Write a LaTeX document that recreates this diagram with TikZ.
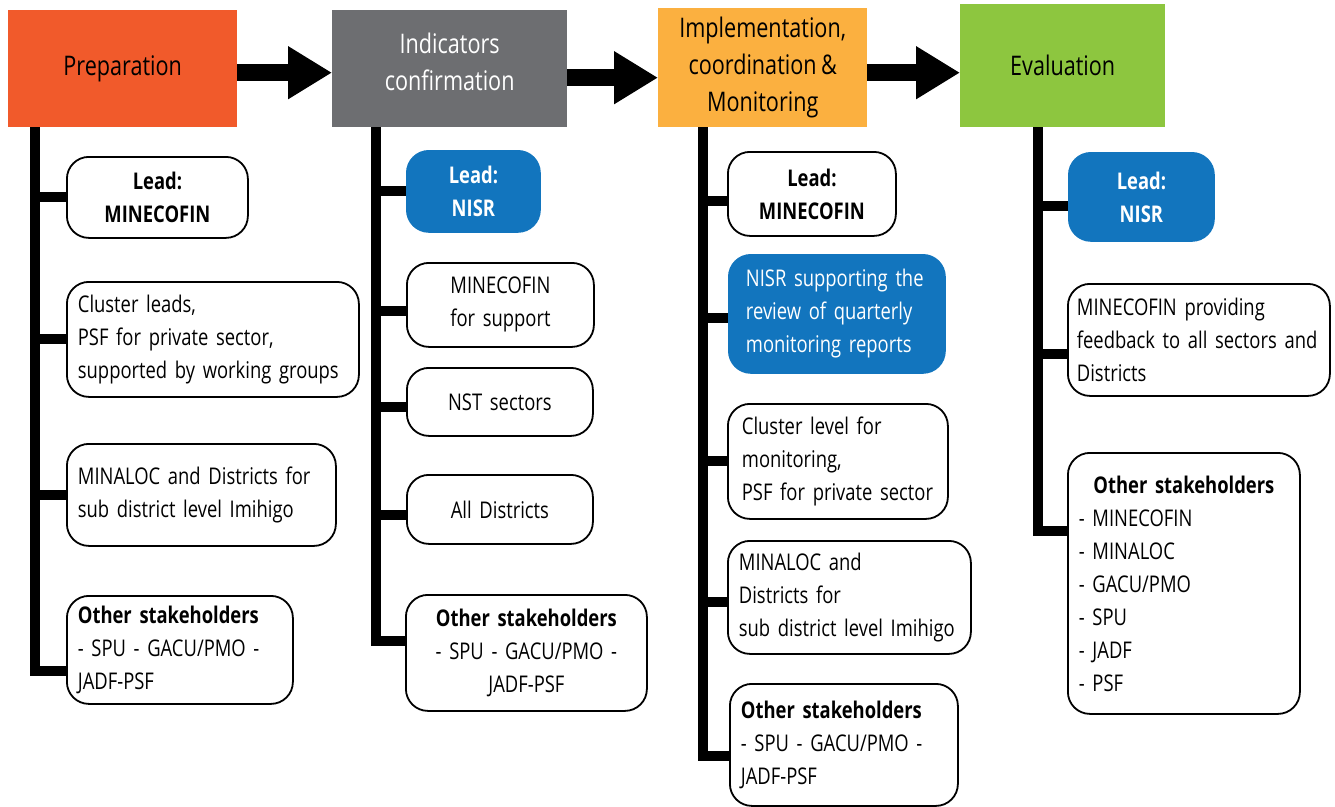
\documentclass[tikz,border=0pt]{standalone}
\usepackage{fontspec}
\setmainfont{Open Sans}[FakeStretch=0.8, WordSpace=0.8]
\usetikzlibrary{arrows.meta, positioning}
\definecolor{prepred}{RGB}{241,90,43}
\definecolor{indgrey}{RGB}{109,110,113}
\definecolor{implorange}{RGB}{251,176,64}
\definecolor{evalgreen}{RGB}{141,198,63}
\definecolor{leadblue}{RGB}{18,117,190}

\begin{document}
\begin{tikzpicture}[x=1pt, y=-1pt,
    stage/.style={fill=#1, anchor=north west, inner sep=0pt, align=center,
                  font=\fontsize{27}{37}\selectfont},
    role/.style={draw, line width=1.8pt, rounded corners=22pt, fill=white,
                 anchor=north west, inner xsep=11pt, inner ysep=0pt,
                 font=\fontsize{23}{33}\selectfont},
    lead/.style={role, align=center, font=\fontsize{23}{33}\selectfont\bfseries},
    bluebox/.style={draw=leadblue, fill=leadblue, text=white},
    spine/.style={line width=10pt, line join=miter},
    flow/.style={line width=17pt, -{Triangle[length=44pt, width=50pt]}}
  ]
  \useasboundingbox (0,0) rectangle (1335,806);

  % Stages
  \node[stage=prepred, minimum width=229pt, minimum height=117pt] (prep)
    at (8,10) {Preparation};
  \node[stage=indgrey, text=white, minimum width=235pt, minimum height=117pt,
        text depth=14pt] (ind) at (332,10) {Indicators\\confirmation};
  \node[stage=implorange, minimum width=209pt, minimum height=119pt] (impl)
    at (658,8) {Implementation,\\coordination \&\\Monitoring};
  \node[stage=evalgreen, minimum width=205pt, minimum height=123pt] (eval)
    at (960,4) {Evaluation};

  % Flow arrows
  \draw[flow] ([yshift=-4pt]prep.east) -- ([yshift=-4pt]prep.east -| ind.west);
  \draw[flow] ([yshift=-9pt]ind.east) -- ([yshift=-9pt]ind.east -| impl.west);
  \draw[flow] ([yshift=-5pt]impl.east) -- ([yshift=-5pt]impl.east -| eval.west);

  % Preparation actors
  \node[lead, text width=159pt, minimum height=81pt] (c1lead) at (66,156)
    {Lead:\\MINECOFIN};
  \node[role, text width=270pt, minimum height=115pt, align=left] (c1clus)
    at (66,281) {Cluster leads,\\PSF for private sector,\\supported by working groups};
  \node[role, text width=247pt, minimum height=102pt, align=left] (c1mina)
    at (66,443) {MINALOC and Districts for\\sub district level Imihigo};
  \node[role, text width=204pt, minimum height=108pt, align=left] (c1other)
    at (66,595) {\textbf{Other stakeholders}\\- SPU - GACU/PMO -\\JADF-PSF};

  % Indicators confirmation actors
  \node[lead, bluebox, text width=111pt, minimum height=81pt] (c2lead)
    at (406,150) {Lead:\\NISR};
  \node[role, text width=165pt, minimum height=84pt, align=center] (c2mine)
    at (406,262) {MINECOFIN\\for support};
  \node[role, text width=164pt, minimum height=68pt, align=center] (c2nst)
    at (406,367) {NST sectors};
  \node[role, text width=164pt, minimum height=69pt, align=center] (c2dist)
    at (406,474) {All Districts};
  \node[role, text width=219pt, minimum height=116pt, align=center] (c2other)
    at (405,594) {\textbf{Other stakeholders}\\- SPU - GACU/PMO -\\JADF-PSF};

  % Implementation actors
  \node[lead, text width=146pt, minimum height=84pt] (c3lead) at (727,151)
    {Lead:\\MINECOFIN};
  \node[role, bluebox, inner xsep=17pt, text width=182pt, minimum height=118pt,
        align=left] (c3nisr) at (728,254)
    {NISR supporting the\\review of quarterly\\monitoring reports};
  \node[role, inner xsep=14pt, text width=192pt, minimum height=115pt,
        align=left] (c3clus) at (727,403)
    {Cluster level for\\monitoring,\\PSF for private sector};
  \node[role, text width=221pt, minimum height=113pt, align=left] (c3mina)
    at (727,540) {MINALOC and\\Districts for\\sub district level Imihigo};
  \node[role, text width=206pt, minimum height=122pt, align=left] (c3other)
    at (729,683) {\textbf{Other stakeholders}\\- SPU - GACU/PMO -\\JADF-PSF};

  % Evaluation actors
  \node[lead, bluebox, text width=123pt, minimum height=88pt] (c4lead)
    at (1068,152) {Lead:\\NISR};
  \node[role, inner xsep=9pt, text width=244pt, minimum height=112pt,
        align=left] (c4mine) at (1067,283)
    {MINECOFIN providing\\feedback to all sectors and\\Districts};
  \node[role, text width=210pt, minimum height=261pt, align=left] (c4other)
    at (1067,452) {\hfill\textbf{Other stakeholders}\hfill\null\\- MINECOFIN\\
    - MINALOC\\- GACU/PMO\\- SPU\\- JADF\\- PSF};

  % Spines
  \coordinate (s1) at ([xshift=27pt]prep.south west);
  \coordinate (s2) at ([xshift=44pt]ind.south west);
  \coordinate (s3) at ([xshift=45pt]impl.south west);
  \coordinate (s4) at ([xshift=78pt]eval.south west);

  \draw[spine] (s1) |- ([yshift=-21pt]c1other.west);
  \draw[spine] (s1 |- c1lead.west) -- (c1lead.west);
  \draw[spine] (s1 |- c1clus.west) -- (c1clus.west);
  \draw[spine] (s1 |- c1mina.west) -- (c1mina.west);

  \draw[spine] (s2) |- ([yshift=12pt]c2other.west);
  \draw[spine] (s2 |- c2lead.west) -- (c2lead.west);
  \draw[spine] ([yshift=-6pt]s2 |- c2mine.west) -- ([yshift=-6pt]c2mine.west);
  \draw[spine] ([yshift=-5pt]s2 |- c2nst.west) -- ([yshift=-5pt]c2nst.west);
  \draw[spine] ([yshift=-6pt]s2 |- c2dist.west) -- ([yshift=-6pt]c2dist.west);

  \draw[spine] (s3) |- ([yshift=-11pt]c3other.west);
  \draw[spine] ([yshift=-7pt]s3 |- c3lead.west) -- ([yshift=-7pt]c3lead.west);
  \draw[spine] ([yshift=-4pt]s3 |- c3nisr.west) -- ([yshift=-4pt]c3nisr.west);
  \draw[spine] (s3 |- c3clus.west) -- (c3clus.west);
  \draw[spine] ([yshift=-5pt]s3 |- c3mina.west) -- ([yshift=-5pt]c3mina.west);

  \draw[spine] (s4) |- ([yshift=52pt]c4other.west);
  \draw[spine] ([yshift=-9pt]s4 |- c4lead.west) -- ([yshift=-9pt]c4lead.west);
  \draw[spine] ([yshift=-14pt]s4 |- c4mine.west) -- ([yshift=-14pt]c4mine.west);

\end{tikzpicture}
\end{document}
